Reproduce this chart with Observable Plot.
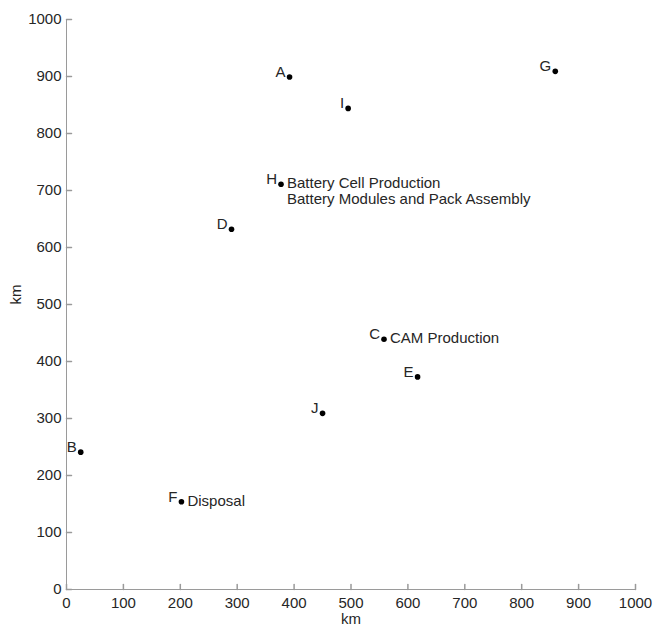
<!DOCTYPE html>
<html>
<head>
<meta charset="utf-8">
<script src="https://cdn.jsdelivr.net/npm/d3@7"></script>
<script src="https://cdn.jsdelivr.net/npm/@observablehq/plot@0.6"></script>
<style>
  html, body { margin: 0; padding: 0; background: #fff; }
</style>
</head>
<body>
<div id="chart"></div>
<script>
const names = ["A", "B", "C", "D", "E", "F", "G", "H", "I", "J"];
const xs = [392, 25, 558, 290, 617, 202, 859, 377, 495, 450];
const ys = [899, 241, 439, 632, 373, 154, 909, 711, 844, 309];
const descriptions = ["", "", "CAM Production", "", "", "Disposal", "", "Battery Cell Production\nBattery Modules and Pack Assembly", "", ""];
const xTicks = [0, 100, 200, 300, 400, 500, 600, 700, 800, 900, 1000];
const yTicks = [0, 100, 200, 300, 400, 500, 600, 700, 800, 900, 1000];
const xLabel = "km";
const yLabel = "km";

const sites = names.map((n, i) => ({name: n, x: xs[i], y: ys[i], desc: descriptions[i]}));
const axisGray = "#9a9a9a";
const textColor = "#262626";
const font = "'Liberation Sans', Arial, sans-serif";
const fs = 15;
const tickShape = {draw(context, l) { context.moveTo(0, 0); context.lineTo(0, -l); }};

const chart = Plot.plot({
  width: 654,
  height: 627,
  marginLeft: 66,
  marginRight: 19,
  marginTop: 19,
  marginBottom: 38,
  style: {fontFamily: font, fontSize: fs + "px", color: textColor, background: "#fff"},
  x: {domain: [0, 1000]},
  y: {domain: [0, 1000]},
  marks: [
    Plot.ruleX([0], {stroke: axisGray}),
    Plot.ruleY([0], {stroke: axisGray}),
    Plot.vector(xTicks, {x: d => d, frameAnchor: "bottom", length: 5, anchor: "start", shape: tickShape, stroke: axisGray}),
    Plot.vector(yTicks, {y: d => d, frameAnchor: "left", length: 5, rotate: 90, anchor: "start", shape: tickShape, stroke: axisGray}),
    Plot.axisX({ticks: xTicks, tickFormat: d => String(d), tickSize: 0, tickPadding: 8, label: null, fontSize: fs, fill: textColor}),
    Plot.axisY({ticks: yTicks, tickFormat: d => String(d), tickSize: 0, tickPadding: 5, label: null, fontSize: fs, fill: textColor}),
    Plot.text([xLabel], {frameAnchor: "bottom", dy: 34.5, fontSize: fs, fill: textColor}),
    Plot.text([yLabel], {frameAnchor: "left", dx: -50, rotate: -90, fontSize: fs, fill: textColor}),
    Plot.dot(sites, {x: "x", y: "y", r: 2.8, fill: "black", stroke: "none"}),
    Plot.text(sites, {x: "x", y: "y", text: "name", textAnchor: "end", dx: -4, dy: -5, fontSize: fs, fill: textColor}),
    Plot.text(sites.filter(d => d.desc), {x: "x", y: "y", text: "desc", textAnchor: "start", lineAnchor: "top", lineHeight: 1.05, dx: 6, dy: -7, fontSize: fs, fill: textColor})
  ]
});
document.getElementById("chart").appendChild(chart);
</script>
</body>
</html>
